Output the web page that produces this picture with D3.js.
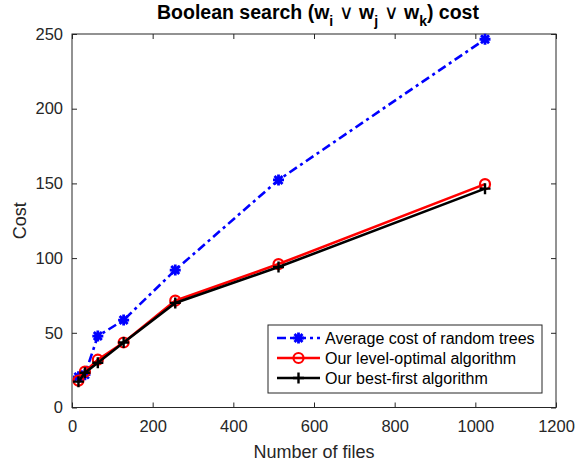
<!DOCTYPE html>
<html>
<head>
<meta charset="utf-8">
<script src="https://cdn.jsdelivr.net/npm/d3@7"></script>
<style>
  body { margin: 0; background: #fff; }
  text { font-family: "Liberation Sans", Arial, sans-serif; }
</style>
</head>
<body>
<div id="chart-area"></div>
<script>

/* data */
const files = [16, 32, 64, 128, 256, 512, 1024];
const randomCost = [20.5, 22, 47.8, 58.5, 92, 152.3, 246.5];
const levelOptimalCost = [18, 24, 32, 43.5, 71.5, 96, 149.5];
const bestFirstCost = [17.3, 23.3, 30, 43.5, 70, 94, 146.5];

const xTicks = [0, 200, 400, 600, 800, 1000, 1200];
const yTicks = [0, 50, 100, 150, 200, 250];

const seriesNames = [
    "Average cost of random trees",
    "Our level-optimal algorithm",
    "Our best-first algorithm"
];

/* graphical constants */
const W = 576, H = 463;
const margin = { left: 72, right: 20, top: 34, bottom: 55.5 };
const width = W - margin.left - margin.right;
const height = H - margin.top - margin.bottom;
const AXIS_COLOR = "#262626";
const TICK_LEN = 5;
const LINE_W = 2.6;

const series = [
    { name: seriesNames[0], values: randomCost, color: "#0000ff", dash: "9,4,3,4", marker: "star" },
    { name: seriesNames[1], values: levelOptimalCost, color: "#ff0000", dash: null, marker: "circle" },
    { name: seriesNames[2], values: bestFirstCost, color: "#000000", dash: null, marker: "plus" }
];

const svg = d3.select("#chart-area")
    .append("svg")
    .attr("width", W)
    .attr("height", H);

const g = svg.append("g")
    .attr("transform", "translate(" + margin.left + ", " + margin.top + ")");

const x = d3.scaleLinear().domain([0, 1200]).range([0, width]);
const y = d3.scaleLinear().domain([0, 250]).range([height, 0]);

// ticks point inwards, like matlab does
const styleAxis = sel => {
    sel.select(".domain").remove();
    sel.selectAll(".tick line").attr("stroke", AXIS_COLOR);
    sel.selectAll(".tick text")
        .attr("fill", AXIS_COLOR)
        .style("font-size", "16.5px")
        .style("font-family", "'Liberation Sans', Arial, sans-serif");
};

const fmt = d3.format("d");

g.append("g")
    .attr("transform", "translate(0," + height + ")")
    .call(d3.axisBottom(x).tickValues(xTicks).tickFormat(fmt).tickSizeInner(-TICK_LEN).tickSizeOuter(0).tickPadding(13))
    .call(styleAxis);

g.append("g")
    .call(d3.axisTop(x).tickValues(xTicks).tickSizeInner(-TICK_LEN).tickSizeOuter(0).tickFormat(""))
    .call(styleAxis);

g.append("g")
    .call(d3.axisLeft(y).tickValues(yTicks).tickFormat(fmt).tickSizeInner(-TICK_LEN).tickSizeOuter(0).tickPadding(9))
    .call(styleAxis);

g.append("g")
    .attr("transform", "translate(" + width + ",0)")
    .call(d3.axisRight(y).tickValues(yTicks).tickSizeInner(-TICK_LEN).tickSizeOuter(0).tickFormat(""))
    .call(styleAxis);

// box
g.append("rect")
    .attr("width", width)
    .attr("height", height)
    .attr("fill", "none")
    .attr("stroke", AXIS_COLOR)
    .attr("stroke-width", 1);

// markers
function drawMarker(sel, type, color) {
    if (type === "circle") {
        sel.append("circle")
            .attr("r", 5)
            .attr("fill", "none")
            .attr("stroke", color)
            .attr("stroke-width", 2.2);
    } else if (type === "plus") {
        sel.append("path")
            .attr("d", "M-5.5,0H5.5M0,-5.5V5.5")
            .attr("stroke", color)
            .attr("stroke-width", 2.4);
    } else {
        sel.append("path")
            .attr("d", "M-5.5,0H5.5M0,-5.5V5.5M-4,-4L4,4M-4,4L4,-4")
            .attr("stroke", color)
            .attr("stroke-width", 2.8);
    }
}

const line = d3.line()
    .x(d => x(d[0]))
    .y(d => y(d[1]));

series.forEach(s => {
    const pts = files.map((f, i) => [f, s.values[i]]);
    g.append("path")
        .datum(pts)
        .attr("d", line)
        .attr("fill", "none")
        .attr("stroke", s.color)
        .attr("stroke-width", LINE_W)
        .attr("stroke-dasharray", s.dash);

    g.selectAll(null)
        .data(pts)
        .enter()
        .append("g")
        .attr("transform", d => "translate(" + x(d[0]) + "," + y(d[1]) + ")")
        .each(function () { drawMarker(d3.select(this), s.marker, s.color); });
});

// legend
const legend = svg.append("g")
    .attr("transform", "translate(268,325)");

legend.append("rect")
    .attr("width", 274)
    .attr("height", 68)
    .attr("fill", "#fff")
    .attr("stroke", AXIS_COLOR)
    .attr("stroke-width", 1);

series.forEach((s, i) => {
    const row = legend.append("g")
        .attr("transform", "translate(0," + (13 + i * 20) + ")");
    row.append("line")
        .attr("x1", 9)
        .attr("x2", 52)
        .attr("stroke", s.color)
        .attr("stroke-width", LINE_W)
        .attr("stroke-dasharray", s.dash);
    row.append("g")
        .attr("transform", "translate(30.5,0)")
        .call(sel => drawMarker(sel, s.marker, s.color));
    row.append("text")
        .attr("x", 57)
        .attr("dy", "0.35em")
        .attr("fill", "#000")
        .style("font-size", "16px")
        .text(s.name);
});

// title with subscripts
const title = svg.append("text")
    .attr("x", margin.left + width / 2 + 4)
    .attr("y", 19)
    .attr("text-anchor", "middle")
    .attr("fill", "#000")
    .style("font-size", "19.5px")
    .style("font-weight", "bold");

title.append("tspan").text("Boolean search (w");
title.append("tspan").attr("dy", 7).style("font-size", "14px").text("i");
title.append("tspan").attr("dy", -7).style("font-weight", "normal").text(" \u2228 ");
title.append("tspan").text("w");
title.append("tspan").attr("dy", 7).style("font-size", "14px").text("j");
title.append("tspan").attr("dy", -7).style("font-weight", "normal").text(" \u2228 ");
title.append("tspan").text("w");
title.append("tspan").attr("dy", 7).style("font-size", "14px").text("k");
title.append("tspan").attr("dy", -7).text(") cost");

// axis labels
svg.append("text")
    .attr("x", margin.left + width / 2)
    .attr("y", 458)
    .attr("text-anchor", "middle")
    .attr("fill", AXIS_COLOR)
    .style("font-size", "18px")
    .text("Number of files");

svg.append("text")
    .attr("transform", "translate(26," + (margin.top + height / 2) + ") rotate(-90)")
    .attr("text-anchor", "middle")
    .attr("fill", AXIS_COLOR)
    .style("font-size", "18px")
    .text("Cost");

</script>
</body>
</html>
